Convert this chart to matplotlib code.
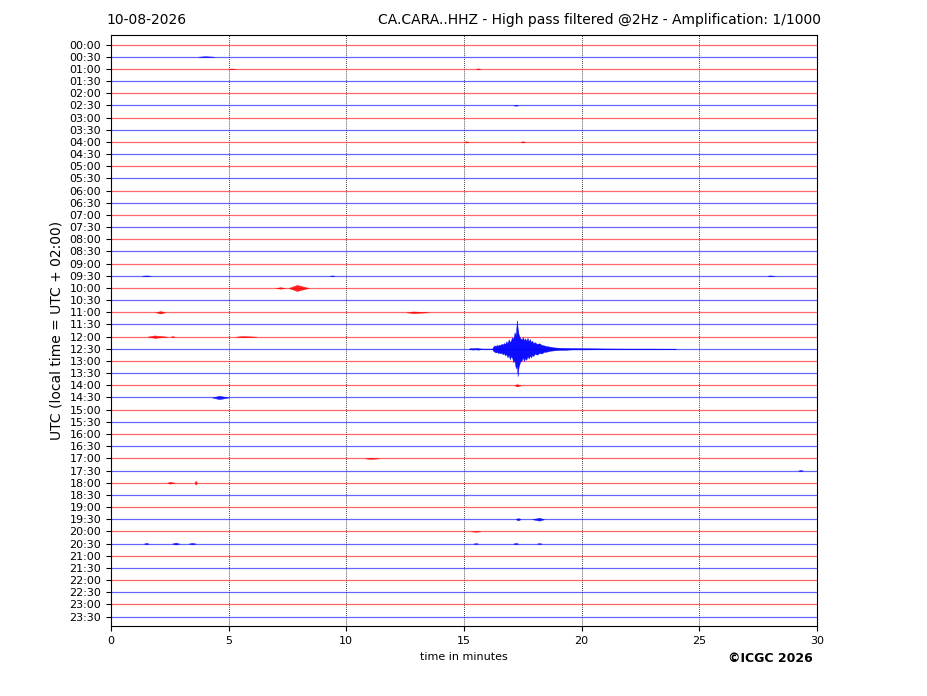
import matplotlib
matplotlib.use("Agg")
import matplotlib.pyplot as plt
import numpy as np

# ---------------- data ----------------
trace_labels = [
    "00:00", "00:30", "01:00", "01:30", "02:00", "02:30", "03:00", "03:30",
    "04:00", "04:30", "05:00", "05:30", "06:00", "06:30", "07:00", "07:30",
    "08:00", "08:30", "09:00", "09:30", "10:00", "10:30", "11:00", "11:30",
    "12:00", "12:30", "13:00", "13:30", "14:00", "14:30", "15:00", "15:30",
    "16:00", "16:30", "17:00", "17:30", "18:00", "18:30", "19:00", "19:30",
    "20:00", "20:30", "21:00", "21:30", "22:00", "22:30", "23:00", "23:30",
]
trace_colors = ["red", "blue"]  # alternating

x_ticks = [0, 5, 10, 15, 20, 25, 30]
grid_minutes = [5, 10, 15, 20, 25]

# Main earthquake on the 12:30 trace (index 25): envelope
eq_trace = 25
eq_minutes = [15.20, 15.30, 15.40, 15.50, 15.60, 15.70, 15.80, 16.00, 16.20,
              16.25, 16.30, 16.35, 16.40, 16.45, 16.50, 16.55, 16.60, 16.65,
              16.70, 16.75, 16.80, 16.85, 16.90, 16.95, 17.00, 17.05, 17.10,
              17.15, 17.20, 17.25, 17.28, 17.32, 17.38, 17.45, 17.50, 17.55,
              17.60, 17.65, 17.70, 17.75, 17.80, 17.85, 17.90, 17.95, 18.00,
              18.10, 18.20, 18.30, 18.40, 18.50, 18.65, 18.80, 19.00, 19.30,
              19.60, 20.00, 20.50, 21.00, 22.00, 23.00, 24.00]
eq_upper = [0.01, 0.06, 0.04, 0.07, 0.05, 0.03, 0.02, 0.02, 0.02,
            0.20, 0.28, 0.22, 0.32, 0.25, 0.35, 0.30, 0.42, 0.34,
            0.48, 0.38, 0.62, 0.45, 0.78, 0.55, 0.70, 0.95, 0.80,
            1.35, 1.10, 2.35, 1.70, 1.20, 0.90, 0.75, 0.95, 0.70,
            0.85, 0.65, 0.90, 0.60, 0.80, 0.55, 0.65, 0.45, 0.55,
            0.40, 0.45, 0.32, 0.28, 0.22, 0.18, 0.12, 0.09, 0.07,
            0.06, 0.05, 0.04, 0.03, 0.02, 0.02, 0.01]
eq_lower = [0.01, 0.05, 0.06, 0.04, 0.07, 0.03, 0.02, 0.02, 0.02,
            0.18, 0.25, 0.30, 0.26, 0.35, 0.30, 0.38, 0.33, 0.45,
            0.36, 0.55, 0.42, 0.70, 0.50, 0.85, 0.60, 0.75, 1.10,
            0.95, 1.60, 1.40, 2.25, 1.50, 1.10, 0.95, 0.70, 1.00,
            0.75, 0.90, 0.60, 0.80, 0.55, 0.70, 0.50, 0.60, 0.40,
            0.48, 0.35, 0.38, 0.25, 0.24, 0.16, 0.13, 0.09, 0.08,
            0.05, 0.05, 0.04, 0.03, 0.02, 0.02, 0.01]

# Small events: trace index, start, peak, end (minutes), amplitude (trace units)
ev_trace = [1, 2, 2, 5, 8, 8, 19, 19, 19, 20, 20, 22, 22, 24, 24, 24,
            28, 29, 34, 35, 36, 36, 39, 39, 40, 41, 41, 41, 41, 41, 41]
ev_start = [3.70, 5.00, 15.50, 17.10, 15.00, 17.40, 1.30, 9.30, 27.90, 7.00, 7.55,
            1.90, 12.55, 1.55, 2.55, 5.30, 17.15, 4.30, 10.80, 29.20, 2.40, 3.55,
            17.20, 17.90, 15.30, 1.40, 2.60, 3.30, 15.40, 17.10, 18.10]
ev_peak = [4.00, 5.10, 15.60, 17.20, 15.10, 17.50, 1.50, 9.40, 28.00, 7.20, 7.90,
           2.10, 12.85, 1.85, 2.60, 5.60, 17.25, 4.60, 11.00, 29.30, 2.50, 3.60,
           17.30, 18.20, 15.50, 1.50, 2.75, 3.45, 15.50, 17.20, 18.20]
ev_end = [4.40, 5.30, 15.70, 17.30, 15.20, 17.60, 1.70, 9.50, 28.20, 7.40, 8.40,
          2.30, 13.50, 2.40, 2.70, 6.20, 17.40, 5.00, 11.40, 29.40, 2.70, 3.65,
          17.40, 18.40, 15.70, 1.60, 2.90, 3.60, 15.60, 17.30, 18.30]
ev_amp = [0.04, 0.03, 0.04, 0.03, 0.05, 0.05, 0.03, 0.03, 0.03, 0.06, 0.25,
          0.10, 0.07, 0.10, 0.05, 0.05, 0.10, 0.14, 0.05, 0.05, 0.08, 0.17,
          0.10, 0.12, 0.03, 0.06, 0.08, 0.06, 0.04, 0.06, 0.04]

# ---------------- figure ----------------
fig = plt.figure(figsize=(9.27, 6.96), dpi=100)
ax = fig.add_axes([0.1197, 0.1001, 0.7616, 0.8496])

n = len(trace_labels)
offsets = np.arange(n)

# baselines
for i in range(n):
    col = trace_colors[i % 2]
    ax.plot([0, 30], [offsets[i], offsets[i]], color=col, lw=0.9, alpha=0.6,
            zorder=2, solid_capstyle="butt")

# small events
for tr, s, p, e, a in zip(ev_trace, ev_start, ev_peak, ev_end, ev_amp):
    col = trace_colors[tr % 2]
    xs = [s, p, e]
    ax.fill_between(xs, [tr, tr - a, tr], [tr, tr + a, tr], color=col,
                    lw=0.3, edgecolor=col, alpha=0.85, zorder=3)

# main earthquake
eq_x = np.array(eq_minutes)
ax.fill_between(eq_x, eq_trace - np.array(eq_upper), eq_trace + np.array(eq_lower),
                color="blue", lw=0.3, edgecolor="blue", alpha=0.95, zorder=4)

# grid
for g in grid_minutes:
    ax.axvline(g, color="black", lw=0.6, linestyle=(0, (1, 1.5)), zorder=1)

ax.set_xlim(0, 30)
ax.set_ylim(n - 1 + 0.8, -0.78)
ax.set_xticks(x_ticks)
ax.set_xticklabels([str(t) for t in x_ticks], fontsize=8)
ax.set_yticks(offsets)
ax.set_yticklabels(trace_labels, fontsize=8)
ax.set_xlabel("time in minutes", fontsize=8)
ax.set_ylabel("UTC (local time = UTC + 02:00)", fontsize=10)

fig.text(106 / 927, 1 - 20 / 696, "10-08-2026", fontsize=10, ha="left", va="center")
fig.text(821 / 927, 1 - 20 / 696,
         "CA.CARA..HHZ - High pass filtered @2Hz - Amplification: 1/1000",
         fontsize=10, ha="right", va="center")
fig.text(770 / 927, 1 - 658 / 696, "©ICGC 2026", fontsize=9, fontweight="bold",
         ha="center", va="center")

fig.savefig("out.png", dpi=100)
